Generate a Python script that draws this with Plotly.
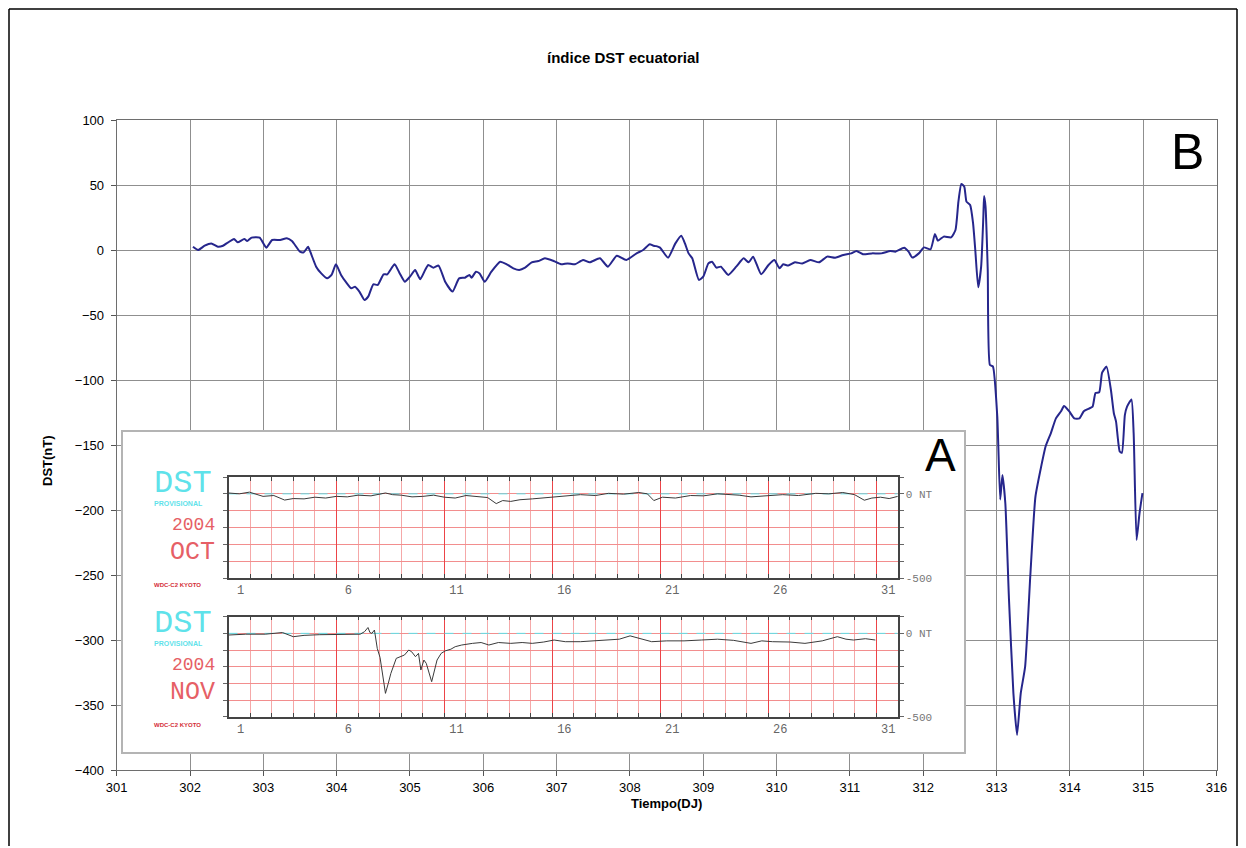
import plotly.graph_objects as go

W, H = 1246, 848

# Equatorial Dst index (nT) against day of year 2004
dj = [302.04, 302.11, 302.20, 302.29, 302.38, 302.45, 302.52, 302.60, 302.65, 302.74,
      302.78, 302.84, 302.95, 303.04, 303.12, 303.23, 303.32, 303.39, 303.50, 303.55,
      303.61, 303.64, 303.72, 303.79, 303.87, 303.93, 303.99, 304.06, 304.13, 304.20,
      304.25, 304.31, 304.38, 304.43, 304.50, 304.56, 304.64, 304.69, 304.79, 304.86,
      304.93, 305.00, 305.07, 305.14, 305.21, 305.25, 305.32, 305.39, 305.48, 305.58,
      305.67, 305.75, 305.81, 305.84, 305.90, 305.95, 306.02, 306.11, 306.23, 306.32,
      306.41, 306.49, 306.57, 306.66, 306.75, 306.84, 306.96, 307.06, 307.15, 307.25,
      307.36, 307.45, 307.59, 307.70, 307.82, 307.95, 308.09, 308.18, 308.27, 308.32,
      308.36, 308.41, 308.52, 308.62, 308.70, 308.75, 308.80, 308.85, 308.94, 309.00,
      309.07, 309.12, 309.18, 309.24, 309.34, 309.45, 309.55, 309.62, 309.68, 309.79,
      309.89, 309.97, 310.04, 310.09, 310.16, 310.25, 310.35, 310.46, 310.58, 310.69,
      310.80, 310.91, 311.02, 311.09, 311.18, 311.30, 311.43, 311.55, 311.62, 311.74,
      311.80, 311.85, 311.94, 312.01, 312.10, 312.16, 312.20, 312.28, 312.38, 312.44,
      312.48, 312.52, 312.56, 312.59, 312.64, 312.68, 312.71, 312.75, 312.79, 312.82,
      312.83, 312.85, 312.88, 312.91, 312.95, 313.01, 313.05, 313.08, 313.12, 313.17,
      313.23, 313.28, 313.33, 313.39, 313.46, 313.53, 313.60, 313.67, 313.74, 313.81,
      313.88, 313.92, 313.99, 314.06, 314.13, 314.19, 314.26, 314.31, 314.35, 314.40,
      314.44, 314.50, 314.56, 314.60, 314.63, 314.68, 314.71, 314.75, 314.78, 314.84,
      314.87, 314.91, 314.95, 314.99]
dst = [2.5, 0, 3.3, 5, 2.5, 3.3, 5.9, 8.5, 5.9, 8.5,
       6.9, 9.5, 9.5, 1.8, 7.7, 7.7, 9, 6.9, -1.3, -1.8,
       2.5, -1.3, -12.8, -18, -21.8, -19.2, -11, -19.2, -24.9, -29.5,
       -28.2, -32, -38.5, -35.9, -26.4, -26.9, -18.7, -18.7, -11, -18,
       -24.4, -20.5, -15.4, -22.5, -15, -11.5, -13.6, -12, -24.4, -32,
       -21.8, -21.3, -19.2, -21.3, -16.7, -18, -24.4, -16.7, -9, -11,
       -14.1, -15.4, -13.6, -9.5, -8.5, -6.4, -8.5, -11, -10.3, -11,
       -7.7, -9.5, -6.4, -12.8, -4.4, -7.7, -2.6, 0, 4.4, 3.3,
       3, 1.8, -5.9, 5.1, 11, 5.1, -2.6, -6.4, -23, -20.5,
       -10.3, -9, -13.6, -12.8, -19.2, -12.8, -6.4, -9.5, -5.1, -18.7,
       -11.5, -7.7, -14.1, -11, -12, -9.5, -10.3, -7.7, -9.5, -5.1,
       -5.9, -3.8, -2.6, -0.8, -3.3, -2.6, -2.6, -0.8, -1.3, 1.8,
       -1.3, -5.8, -2.6, 2, 0.5, 12.3, 7.2, 10.3, 9.7, 15.4,
       37.2, 50.8, 48.7, 37.2, 34.6, 20.5, 0, -28.7, -12.8, 25.6,
       41.5, 33.3, -15.4, -88.5, -89.5, -128, -192, -173, -195, -269,
       -341, -373, -341, -320.5, -251, -190, -169, -151, -141, -129.5,
       -124, -120, -124, -129.5, -129.5, -124, -122, -120.5, -110, -109.5,
       -94.4, -89.7, -107.7, -125.6, -132, -155, -156, -127, -120.5, -115,
       -141, -223, -202.5, -187]

# Provisional Dst, WDC-C2 Kyoto: elapsed days from the 1st of the month, nT
oct_day = [0.0, 0.5, 0.97, 1.3, 1.6, 2.1, 2.6, 3.0, 3.5, 4.0, 4.5, 5.0, 5.5, 6.0,
           6.6, 7.27, 7.6, 8.0, 8.5, 9.0, 9.5, 10.0, 10.5, 11.0, 11.55, 12.0,
           12.4, 12.7, 13.07, 13.5, 14.07, 14.6, 15.08, 15.7, 16.3, 17.0, 17.6,
           18.3, 19.0, 19.4, 19.7, 20.1, 20.7, 21.4, 22.0, 22.65, 23.2, 23.65,
           24.2, 24.66, 25.2, 25.67, 26.4, 27.2, 27.8, 28.45, 29.0, 29.45, 29.8,
           30.2, 30.6, 31.0]
oct_dst = [5, 0, 10, -5, -15, -10, -37, -28, -30, -20, -25, -15, -18, -8,
           -12, 5, -5, -8, -18, -15, -8, -20, -25, -10, -15, -22,
           -58, -40, -45, -35, -30, -25, -20, -12, -5, -10, 3,
           -2, 8, 0, -40, -20, -25, -10, -12, 0, -5, -8,
           -18, -15, -8, -5, -10, 3, 0, 8, -5, -38, -25,
           -20, -28, -15]
nov_day = [0.0, 0.8, 1.7, 2.5, 3.0, 3.5, 4.2, 5.0, 5.5, 6.1, 6.3, 6.46, 6.55, 6.64,
           6.76, 6.89, 7.02, 7.15, 7.27, 7.4, 7.52, 7.77, 8.15, 8.35, 8.48, 8.66,
           8.8, 8.91, 9.05, 9.16, 9.41, 9.66, 9.85, 10.04, 10.3, 10.5, 10.8, 11.3,
           11.7, 12.06, 12.5, 13.07, 13.6, 14.07, 14.6, 15.08, 15.6, 16.3, 17.0,
           17.6, 18.1, 18.6, 19.0, 19.6, 20.3, 21.1, 21.9, 22.65, 23.4, 24.2, 24.7,
           25.2, 26.0, 26.7, 27.5, 28.2, 28.6, 28.95, 29.5, 29.96]
nov_dst = [-10, -5, -5, 5, -20, -12, -8, -5, -3, -5, 10, 35, 5, 0,
           20, -90, -145, -250, -360, -300, -240, -150, -130, -100, -110, -140,
           -120, -220, -160, -180, -290, -160, -120, -105, -95, -80, -70, -60,
           -55, -70, -55, -60, -55, -60, -52, -40, -50, -50, -45,
           -40, -35, -15, -30, -50, -45, -45, -40, -35, -42, -60, -45,
           -50, -52, -60, -45, -20, -35, -40, -32, -40]
zero_x = [0, 31]
zero_y = [0, 0]

x_ticks = list(range(301, 317))
y_ticks = list(range(-400, 101, 50))
day_tickvals = [0, 5, 10, 15, 20, 25, 30]
day_ticktext = ["1", "6", "11", "16", "21", "26", "31"]
nt_tickvals = [0, -500]
nt_ticktext = ["0 NT", "-500"]


def fx(p):
    return p / W


def fy(p):
    return 1 - p / H


SANS = "Arial, Liberation Sans, sans-serif"
MONO = "Liberation Mono, DejaVu Sans Mono, monospace"
CYAN = "#5fe2ea"
RED = "#e65f66"

fig = go.Figure()

fig.add_trace(go.Scatter(x=dj, y=dst, mode="lines",
                         line=dict(color="#26268c", width=2, shape="spline", smoothing=0.5),
                         xaxis="x", yaxis="y", hoverinfo="skip"))
# panel A frame (its white background hides the grid beneath it)
fig.add_trace(go.Scatter(x=[0.5], y=[0.5], mode="markers", marker=dict(opacity=0),
                         xaxis="x2", yaxis="y2", hoverinfo="skip"))
for xa, ya, days, vals in (("x3", "y3", oct_day, oct_dst), ("x4", "y4", nov_day, nov_dst)):
    # dashed zero reference
    fig.add_trace(go.Scatter(x=zero_x, y=zero_y, mode="lines",
                             line=dict(color=CYAN, width=1, dash="dash"),
                             xaxis=xa, yaxis=ya, hoverinfo="skip"))
    fig.add_trace(go.Scatter(x=days, y=vals, mode="lines",
                             line=dict(color="#3a3a3a", width=1),
                             xaxis=xa, yaxis=ya, hoverinfo="skip"))

main_ax = dict(showgrid=True, gridcolor="#8f8f8f", gridwidth=1, zeroline=False,
               showline=True, linecolor="#6e6e6e", linewidth=1, mirror=True,
               ticks="outside", ticklen=5, tickcolor="#555555", automargin=False,
               tickfont=dict(family=SANS, size=13, color="#000000"))

box_ax = dict(showgrid=False, zeroline=False, showticklabels=False, ticks="",
              showline=True, mirror=True, linecolor="#b4b4b4", linewidth=1.5,
              range=[0, 1], fixedrange=True, automargin=False)


def day_axis(anchor):
    return dict(domain=[fx(228.5), fx(897.8)], anchor=anchor, range=[0, 31],
                tickmode="array", tickvals=day_tickvals, ticktext=day_ticktext,
                ticklabelshift=12, ticks="inside", ticklen=4, tickcolor="#444444",
                showgrid=True, gridcolor="#ec4448", gridwidth=1.3, zeroline=False,
                minor=dict(tickmode="linear", tick0=0, dtick=1, showgrid=True,
                           gridcolor="#f5a8a8", gridwidth=1, ticks="inside",
                           ticklen=4, tickcolor="#444444"),
                showline=True, mirror="allticks", linecolor="#444444", linewidth=1.5,
                automargin=False,
                tickfont=dict(family=MONO, size=12, color="#666666"))


def nt_axis(anchor, top, bottom):
    return dict(domain=[fy(bottom), fy(top)], anchor=anchor, range=[-500, 100],
                side="right", tickmode="array", tickvals=nt_tickvals, ticktext=nt_ticktext,
                ticks="outside", ticklen=4, tickcolor="#666666", showgrid=False,
                zeroline=False,
                minor=dict(tickmode="linear", tick0=0, dtick=100, showgrid=True,
                           gridcolor="#f28e8e", gridwidth=1, ticks="outside",
                           ticklen=4, tickcolor="#666666"),
                showline=True, mirror="allticks", linecolor="#444444", linewidth=1.5,
                automargin=False,
                tickfont=dict(family=MONO, size=11, color="#777777"))


fig.update_layout(
    width=W, height=H, autosize=False,
    margin=dict(l=0, r=0, t=0, b=0, pad=0, autoexpand=False),
    paper_bgcolor="white", plot_bgcolor="white",
    showlegend=False,
    xaxis=dict(domain=[fx(116.7), fx(1216.5)], range=[301, 316], anchor="y",
               tickmode="array", tickvals=x_ticks, **main_ax),
    yaxis=dict(domain=[fy(770), fy(120)], range=[-400, 100], anchor="x",
               tickmode="array", tickvals=y_ticks, ticklabelstandoff=4, **main_ax),
    xaxis2=dict(domain=[fx(123), fx(964)], anchor="y2", **box_ax),
    yaxis2=dict(domain=[fy(752), fy(432)], anchor="x2", **box_ax),
    xaxis3=day_axis("y3"),
    yaxis3=nt_axis("x3", 477, 578),
    xaxis4=day_axis("y4"),
    yaxis4=nt_axis("x4", 616.7, 716.7),
)

# outer frame of the figure (open at the bottom edge of the page)
for x0, y0, x1, y1 in ((9, 9, 1237, 9), (9, 9, 9, 846), (1237, 9, 1237, 846)):
    fig.add_shape(type="line", xref="paper", yref="paper",
                  x0=fx(x0), y0=fy(y0), x1=fx(x1), y1=fy(y1),
                  line=dict(color="#000000", width=1.5), layer="above")


def note(text, x, y, size, color="#000000", family=SANS, xanchor="center",
         textangle=0, bold=False):
    fig.add_annotation(text=("<b>%s</b>" % text) if bold else text,
                       x=fx(x), y=fy(y), xref="paper", yref="paper",
                       xanchor=xanchor, yanchor="middle", showarrow=False,
                       textangle=textangle, borderpad=0,
                       font=dict(family=family, size=size, color=color))


note("índice DST ecuatorial", 623, 57, 15, bold=True)
note("Tiempo(DJ)", 666, 803, 13, bold=True)
note("DST(nT)", 47, 460, 13, bold=True, textangle=-90)
note("B", 1187, 152, 50)
note("A", 940, 455, 46)

for base, month in ((483, "OCT"), (623, "NOV")):
    note("DST", 153, base, 32, color=CYAN, family=MONO, xanchor="left")
    note("PROVISIONAL", 153, base + 20, 7, color=CYAN, xanchor="left", bold=True)
    note("2004", 216, base + 42, 18, color=RED, family=MONO, xanchor="right")
    note(month, 216, base + 69, 25, color=RED, family=MONO, xanchor="right")
    note("WDC-C2 KYOTO", 153, base + 102, 6, color="#d42c36", xanchor="left", bold=True)

fig.write_html("out.html")
